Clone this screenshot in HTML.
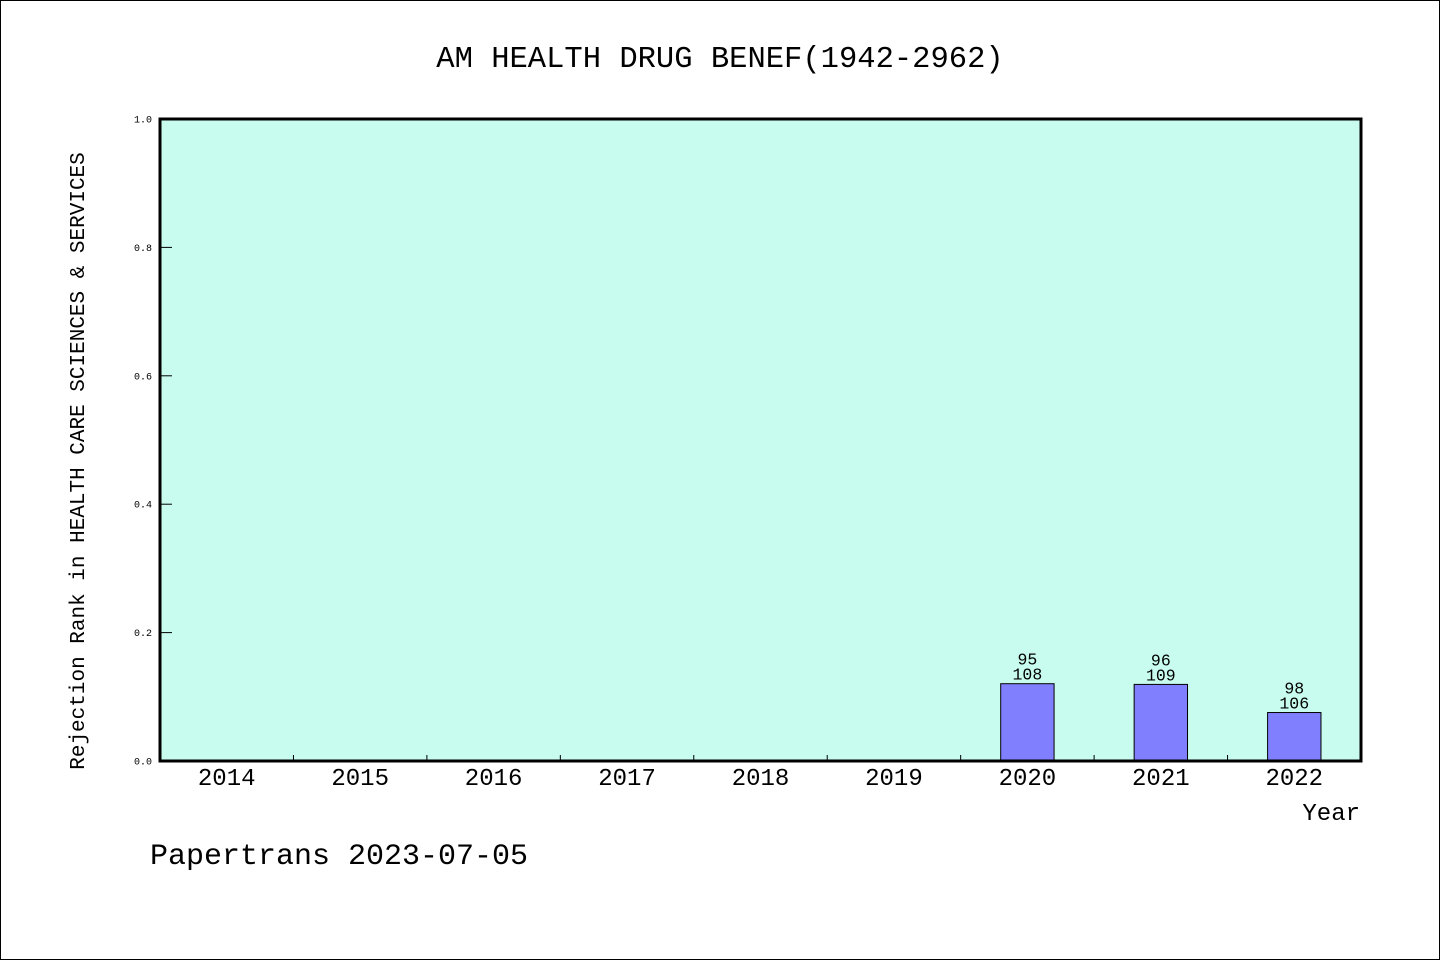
<!DOCTYPE html>
<html><head><meta charset="utf-8"><style>
html,body{margin:0;padding:0;background:#fff}
svg{display:block}
text{font-family:"Liberation Mono","WenQuanYi Zen Hei",monospace;fill:#000}
</style></head><body>
<svg width="1440" height="960" viewBox="0 0 1440 960">
<rect x="0.5" y="0.5" width="1439" height="959" fill="#fff" stroke="#000"/>
<text x="720" y="67" font-size="30.5" text-anchor="middle">AM HEALTH DRUG BENEF(1942-2962)</text>
<rect x="160" y="119" width="1201" height="642" fill="#c8fcee"/>
<g id="yt"></g>
<g id="xt"></g>
<g id="bars"></g>
<rect x="160" y="119" width="1201" height="642" fill="none" stroke="#000" stroke-width="3"/>
<text x="1360" y="820" font-size="24" text-anchor="end">Year</text>
<text transform="translate(84,461) rotate(-90)" font-size="21" text-anchor="middle">Rejection Rank in HEALTH CARE SCIENCES &amp; SERVICES</text>
<text x="150" y="864" font-size="30">Papertrans 2023-07-05</text>
</svg>
<script>
const categories=["2014","2015","2016","2017","2018","2019","2020","2021","2022"];
const values=[null,null,null,null,null,null,0.1204,0.1193,0.0755];
const rankLabels=["","","","","","","95","96","98"];
const totalLabels=["","","","","","","108","109","106"];
const yTicks=[0,0.2,0.4,0.6,0.8,1.0];
const X0=160,X1=1361,Y0=761,Y1=119;
const NS="http://www.w3.org/2000/svg";
const bw=(X1-X0)/categories.length;
function xs(i){return X0+bw*(i+0.5);}
function ys(v){return Y0-(Y0-Y1)*v;}
function mk(t,a,p){const e=document.createElementNS(NS,t);for(const k in a)e.setAttribute(k,a[k]);p.appendChild(e);return e;}
const yt=document.getElementById('yt'),xt=document.getElementById('xt'),bars=document.getElementById('bars');
yTicks.forEach(v=>{
  const y=ys(v);
  const l=mk('line',{x1:X0,x2:X0+12,y1:y,y2:y,stroke:'#000','stroke-width':1},yt);
  
  
  const t=mk('text',{x:X0-8,y:y+3.5,'font-size':10,'text-anchor':'end'},yt);
  t.textContent=v.toFixed(1);
  
  
});
categories.forEach((c,i)=>{
  if(i>0){
    const x=X0+bw*i;
    const l=mk('line',{x1:x,x2:x,y1:Y0,y2:Y0-6,stroke:'#000','stroke-width':1},xt);
    
    
  }
  const t=mk('text',{x:xs(i),y:Y0+24,'font-size':24,'text-anchor':'middle'},xt);
  t.textContent=c;
  
  
  const v=values[i];
  if(v!==null&&v!==undefined){
    const w=bw*0.4;
    const r=mk('rect',{x:xs(i)-w/2,y:ys(v),width:w,height:Y0-ys(v),fill:'#8080ff',stroke:'#000','stroke-width':1},bars);
    
    
    const t1=mk('text',{x:xs(i),y:ys(v)-19,'font-size':16.5,'text-anchor':'middle'},bars);
    t1.textContent=rankLabels[i];
    
    
    const t2=mk('text',{x:xs(i),y:ys(v)-4,'font-size':16.5,'text-anchor':'middle'},bars);
    t2.textContent=totalLabels[i];
    
    
  }
});
</script>
</body></html>
